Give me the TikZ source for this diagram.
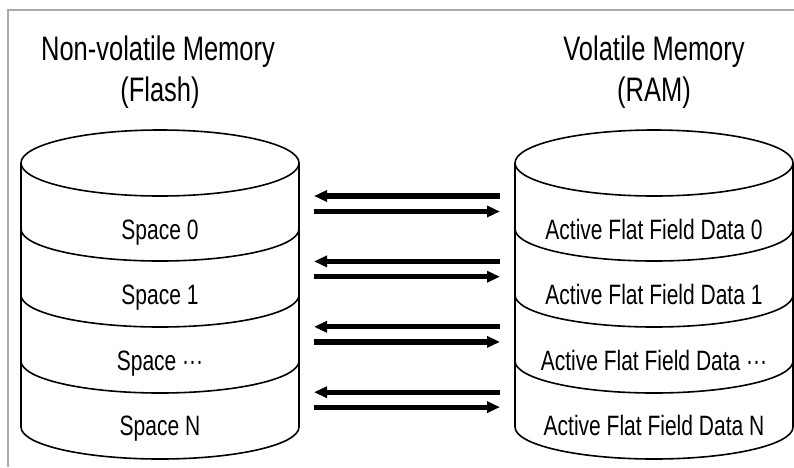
\documentclass[tikz,border=0pt]{standalone}
\usepackage{fontspec}
\setmainfont{Liberation Sans}
\newfontfamily\diafont[FakeStretch=0.75]{Liberation Sans}
\usetikzlibrary{arrows.meta}

\newlength{\du}
\setlength{\du}{1pt}

\definecolor{framecolor}{rgb}{0.670000, 0.670000, 0.670000}

\begin{document}
\begin{tikzpicture}[
  framestyle/.style={draw=framecolor, line width=2.2\du},
  drumline/.style={draw=black, line width=1.6\du},
  headtext/.style={anchor=base, inner sep=0pt, font=\diafont\fontsize{34}{40}\selectfont},
  layertext/.style={anchor=base, inner sep=0pt, font=\diafont\fontsize{28}{32}\selectfont},
  xferline/.style={draw=black, line width=5.2\du, -{Triangle[length=13pt,width=11pt]}}
]
\pgftransformxscale{1.000000}
\pgftransformyscale{-1.000000}
\useasboundingbox (0\du,0\du) rectangle (794\du,467\du);
% frame
\draw[framestyle] (8\du,467\du)--(8\du,10\du)--(794\du,10\du);
% titles
\node[headtext] (flashname) at (158\du,60.3\du){Non-volatile Memory};
\node[headtext] (flashtype) at (160\du,101.5\du){(Flash)};
\node[headtext] (ramname) at (654\du,60.3\du){Volatile Memory};
\node[headtext] (ramtype) at (654\du,101.5\du){(RAM)};
% drums
\foreach \cx in {160,654}{
  \pgfmathsetmacro{\xl}{\cx-139}
  \pgfmathsetmacro{\xr}{\cx+139}
  \draw[drumline] (\xl\du,163\du)--(\xl\du,427\du);
  \draw[drumline] (\xr\du,163\du)--(\xr\du,427\du);
  \draw[drumline] (\cx\du,163\du) ellipse [x radius=139\du, y radius=33\du];
  \foreach \k in {1,...,4}{
    \pgfmathsetmacro{\yk}{163+66*\k}
    \draw[drumline] (\xl\du,\yk\du) arc [start angle=180, end angle=0, x radius=139\du, y radius=32\du];
  }
}
% layer labels
\node[layertext] (space0) at (160\du,239.5\du){Space 0};
\node[layertext] (space1) at (160\du,304.8\du){Space 1};
\node[layertext] (spacedots) at (160\du,370.1\du){Space ···};
\node[layertext] (spaceN) at (160\du,435.4\du){Space N};
\node[layertext] (data0) at (654\du,239.5\du){Active Flat Field Data 0};
\node[layertext] (data1) at (654\du,304.8\du){Active Flat Field Data 1};
\node[layertext] (datadots) at (654\du,370.1\du){Active Flat Field Data ···};
\node[layertext] (dataN) at (654\du,435.4\du){Active Flat Field Data N};
% transfers
\foreach \k in {0,...,3}{
  \pgfmathsetmacro{\yl}{196+65.4*\k}
  \pgfmathsetmacro{\yr}{211.5+65.2*\k}
  \coordinate (ramout\k) at (500\du,\yl\du);
  \coordinate (flashin\k) at (314\du,\yl\du);
  \coordinate (flashout\k) at (314\du,\yr\du);
  \coordinate (ramin\k) at (500\du,\yr\du);
  \draw[xferline] (ramout\k)--(flashin\k);
  \draw[xferline] (flashout\k)--(ramin\k);
}
\end{tikzpicture}
\end{document}
